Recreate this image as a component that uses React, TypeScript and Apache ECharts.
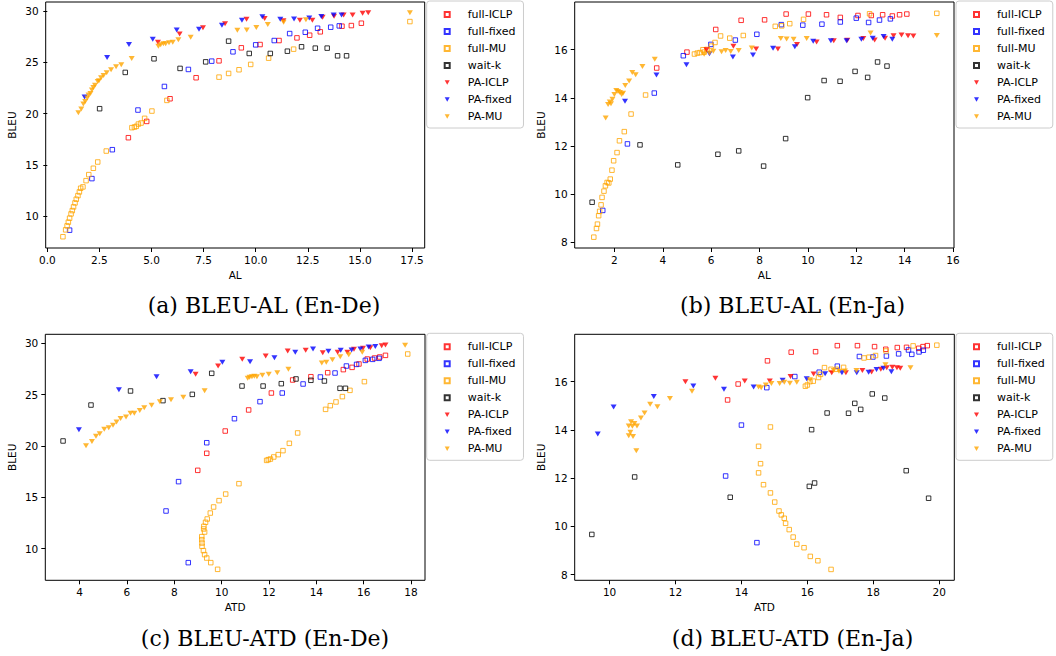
import React, { useEffect, useRef } from 'react';
import * as echarts from 'echarts';

// ---------- series names ----------
const seriesNames = ['full-ICLP', 'full-fixed', 'full-MU', 'wait-k', 'PA-ICLP', 'PA-fixed', 'PA-MU'];

// ---------- tick labels ----------
const aXTicks = [0, 2.5, 5, 7.5, 10, 12.5, 15, 17.5];
const aYTicks = [10, 15, 20, 25, 30];
const bXTicks = [2, 4, 6, 8, 10, 12, 14, 16];
const bYTicks = [8, 10, 12, 14, 16];
const cXTicks = [4, 6, 8, 10, 12, 14, 16, 18];
const cYTicks = [10, 15, 20, 25, 30];
const dXTicks = [10, 12, 14, 16, 18, 20];
const dYTicks = [8, 10, 12, 14, 16];

// ---------- (a) BLEU-AL (En-De) ----------
const aFullICLP = [[3.89,17.66],[4.77,19.25],[5.89,21.46],[7.14,23.51],[8.24,25.16],[9.31,26.43],[10.21,26.75],[11.12,27.14],[11.98,27.40],[12.59,27.66],[13.10,27.99],[14.14,28.54],[14.59,28.60],[15.07,28.83]];
const aFullFixed = [[1.07,8.64],[2.14,13.67],[3.12,16.49],[4.35,20.36],[5.62,22.66],[6.77,24.32],[7.89,25.13],[8.91,26.04],[10.0,26.72],[10.89,27.14],[11.63,27.82],[12.38,27.95],[12.97,28.34],[13.60,28.44],[14.01,28.57]];
const aFullMU = [[0.75,8.0],[0.88,8.67],[0.95,9.06],[1.01,9.42],[1.07,9.81],[1.14,10.23],[1.20,10.55],[1.26,10.91],[1.33,11.30],[1.39,11.66],[1.47,12.01],[1.54,12.37],[1.60,12.73],[1.71,12.86],[1.86,13.47],[1.99,14.06],[2.21,14.68],[2.42,15.29],[2.83,16.36],[4.06,18.64],[4.18,18.70],[4.27,18.77],[4.37,18.99],[4.50,19.09],[4.67,19.55],[5.02,20.26],[5.74,21.30],[8.24,23.57],[8.70,23.93],[9.20,24.29],[9.76,24.81],[10.62,25.42],[11.82,26.30],[17.4,28.99]];
const aWaitK = [[2.51,20.49],[3.74,24.03],[5.12,25.36],[6.37,24.42],[7.60,25.06],[8.70,27.08],[9.69,25.88],[10.70,25.88],[11.52,26.10],[12.20,26.53],[12.86,26.40],[13.43,26.40],[13.93,25.65],[14.36,25.65]];
const aPAICLP = [[5.31,26.98],[6.35,27.79],[7.47,28.38],[8.53,28.77],[9.56,29.22],[10.43,29.29],[11.33,29.06],[12.12,29.12],[12.72,29.12],[13.21,29.42],[13.76,29.51],[14.22,29.64],[14.65,29.64],[15.13,29.81],[15.40,29.84]];
const aPAFixed = [[1.79,21.62],[2.87,25.49],[3.92,26.75],[5.06,27.27],[6.21,28.18],[7.28,28.25],[8.38,28.64],[9.34,29.12],[10.32,29.45],[11.18,29.22],[11.84,29.25],[12.57,29.35],[13.15,29.48],[13.74,29.64],[14.12,29.64]];
const aPAMU = [[1.49,20.10],[1.63,20.45],[1.73,20.94],[1.82,21.20],[1.92,21.53],[1.98,21.82],[2.07,21.98],[2.14,22.31],[2.21,22.56],[2.29,22.79],[2.42,23.15],[2.48,23.21],[2.58,23.51],[2.70,23.73],[2.85,23.99],[3.06,24.29],[3.30,24.58],[3.55,24.77],[4.05,25.39],[5.33,26.59],[5.44,26.72],[5.57,26.82],[5.68,26.82],[5.84,26.92],[6.02,26.98],[6.29,27.21],[6.88,27.47],[9.12,28.15],[9.57,28.18],[10.03,28.41],[10.58,28.70],[11.34,28.93],[12.41,29.16],[17.4,29.84]];

// ---------- (b) BLEU-AL (En-Ja) ----------
const bFullICLP = [[3.75,15.24],[5.0,15.90],[6.19,16.84],[7.24,17.22],[8.21,17.24],[9.10,17.48],[10.02,17.48],[10.77,17.45],[11.34,17.34],[12.07,17.42],[12.62,17.42],[13.09,17.45],[13.49,17.40],[13.79,17.45],[14.09,17.48]];
const bFullFixed = [[1.52,9.33],[2.54,12.09],[3.65,14.20],[4.85,15.75],[5.99,16.22],[7.0,16.40],[7.89,16.64],[8.90,17.04],[9.79,17.02],[10.58,17.06],[11.34,17.15],[12.0,17.31],[12.51,17.13],[12.96,17.23],[13.41,17.28]];
const bFullMU = [[1.15,8.22],[1.26,8.58],[1.30,8.76],[1.35,9.11],[1.39,9.29],[1.45,9.56],[1.49,9.87],[1.57,10.13],[1.63,10.35],[1.70,10.49],[1.77,10.47],[1.83,10.63],[1.90,11.0],[1.97,11.39],[2.11,11.73],[2.21,12.22],[2.41,12.60],[2.69,13.33],[3.29,14.12],[5.31,15.82],[5.43,15.86],[5.54,15.88],[5.66,16.0],[5.71,15.90],[5.83,16.01],[6.01,16.15],[6.16,16.30],[6.39,16.57],[6.77,16.48],[7.33,16.59],[8.65,16.97],[8.92,16.99],[9.25,17.08],[9.82,17.26],[12.55,17.49],[15.33,17.51]];
const bWaitK = [[1.08,9.67],[3.06,12.05],[4.62,11.22],[6.28,11.66],[7.14,11.80],[8.17,11.17],[9.08,12.31],[9.99,14.01],[10.67,14.72],[11.33,14.69],[11.95,15.10],[12.47,14.85],[12.88,15.49],[13.27,15.32]];
const bPAICLP = [[5.81,16.0],[6.92,16.14],[7.86,16.03],[8.76,16.03],[9.55,16.22],[10.36,16.32],[11.07,16.37],[11.63,16.39],[12.29,16.47],[12.76,16.40],[13.19,16.48],[13.54,16.58],[13.87,16.61],[14.14,16.58],[14.36,16.57]];
const bPAFixed = [[2.44,13.86],[3.74,14.95],[4.98,15.38],[5.93,15.83],[6.90,15.70],[7.73,15.78],[8.56,16.06],[9.46,16.12],[10.22,16.35],[10.95,16.37],[11.60,16.37],[12.21,16.43],[12.68,16.48],[13.13,16.55],[13.49,16.43]];
const bPAMU = [[1.64,13.17],[1.74,13.73],[1.81,13.83],[1.86,13.76],[1.92,13.94],[2.0,14.14],[2.08,14.31],[2.15,14.27],[2.23,14.22],[2.30,14.14],[2.36,14.19],[2.45,14.51],[2.61,14.70],[2.74,15.05],[2.88,14.96],[3.16,15.30],[3.67,15.60],[5.71,15.81],[5.93,15.86],[6.09,15.94],[6.43,15.92],[6.60,15.97],[6.81,15.93],[7.14,15.97],[7.68,16.07],[8.88,16.46],[9.12,16.44],[9.41,16.43],[9.95,16.46],[12.59,16.69],[15.33,16.59]];

// ---------- (c) BLEU-ATD (En-De) ----------
const cFullICLP = [[8.99,17.63],[9.37,19.29],[10.15,21.46],[11.14,23.51],[12.10,25.16],[13.0,26.43],[13.77,26.75],[14.48,27.14],[15.14,27.44],[15.51,27.66],[15.80,27.99],[16.15,28.47],[16.46,28.57],[16.68,28.67],[16.92,28.83]];
const cFullFixed = [[8.59,8.64],[7.65,13.67],[8.18,16.53],[9.37,20.32],[10.54,22.66],[11.62,24.32],[12.56,25.16],[13.44,26.04],[14.17,26.72],[14.79,27.11],[15.27,27.79],[15.70,27.95],[16.07,28.34],[16.38,28.44],[16.65,28.54]];
const cFullMU = [[9.83,7.99],[9.54,8.64],[9.37,9.09],[9.28,9.42],[9.23,9.81],[9.17,10.23],[9.17,10.55],[9.16,10.88],[9.16,11.17],[9.28,11.62],[9.24,11.92],[9.25,12.18],[9.32,12.57],[9.39,12.89],[9.52,13.47],[9.66,14.06],[9.89,14.68],[10.17,15.32],[10.73,16.33],[11.90,18.60],[11.97,18.67],[12.06,18.73],[12.20,18.93],[12.39,19.16],[12.59,19.55],[12.86,20.26],[13.21,21.27],[14.39,23.57],[14.59,23.93],[14.83,24.29],[15.10,24.81],[15.42,25.42],[16.03,26.27],[17.86,28.96]];
const cWaitK = [[3.30,20.49],[4.48,23.99],[6.15,25.36],[7.52,24.42],[8.76,25.03],[9.58,27.08],[10.86,25.84],[11.75,25.84],[12.52,26.07],[13.14,26.53],[13.77,26.40],[14.34,26.33],[15.0,25.62],[15.23,25.62]];
const cPAICLP = [[8.90,26.98],[9.85,27.79],[10.87,28.44],[11.86,28.77],[12.79,29.25],[13.55,29.32],[14.27,29.09],[14.90,29.12],[15.31,29.12],[15.59,29.42],[15.97,29.51],[16.28,29.58],[16.76,29.77],[16.92,29.84]];
const cPAFixed = [[3.97,21.59],[5.66,25.49],[7.25,26.75],[8.69,27.24],[10.03,28.15],[11.20,28.21],[12.23,28.60],[13.11,29.12],[13.86,29.45],[14.51,29.22],[15.03,29.32],[15.49,29.35],[15.86,29.45],[16.21,29.64],[16.49,29.68]];
const cPAMU = [[4.27,20.03],[4.52,20.45],[4.69,20.94],[4.85,21.20],[5.04,21.62],[5.23,21.79],[5.41,22.01],[5.56,22.34],[5.73,22.69],[5.96,22.82],[6.15,23.18],[6.31,23.18],[6.54,23.47],[6.73,23.73],[7.04,23.96],[7.39,24.32],[7.86,24.51],[8.38,24.74],[9.28,25.39],[11.10,26.59],[11.18,26.69],[11.28,26.75],[11.38,26.79],[11.49,26.75],[11.72,26.88],[11.99,26.98],[12.35,27.14],[12.82,27.47],[14.23,28.08],[14.42,28.15],[14.68,28.41],[15.01,28.70],[15.37,28.90],[15.94,29.12],[17.75,29.81]];

// ---------- (d) BLEU-ATD (En-Ja) ----------
const dFullICLP = [[13.58,15.24],[13.90,15.90],[14.79,16.86],[15.51,17.22],[16.25,17.24],[16.91,17.49],[17.52,17.49],[18.04,17.45],[18.38,17.34],[18.73,17.41],[19.01,17.42],[19.38,17.38],[19.51,17.45],[19.64,17.49]];
const dFullFixed = [[13.52,12.09],[14.0,14.20],[14.47,9.33],[14.77,15.75],[15.62,16.21],[16.36,16.39],[16.91,16.64],[17.58,17.04],[17.99,17.02],[18.40,17.06],[18.77,17.15],[19.07,17.31],[19.17,17.13],[19.39,17.23],[19.52,17.30]];
const dFullMU = [[16.72,8.22],[16.32,8.58],[16.09,8.76],[15.90,9.12],[15.68,9.27],[15.57,9.56],[15.45,9.87],[15.34,10.13],[15.30,10.34],[15.21,10.48],[15.14,10.64],[15.01,11.01],[14.88,11.39],[14.67,11.73],[14.52,12.22],[14.58,12.60],[14.52,13.32],[14.88,14.12],[15.94,15.81],[16.0,15.86],[16.08,16.0],[16.18,16.02],[16.34,16.17],[16.40,16.30],[16.52,16.58],[16.72,16.51],[16.88,16.51],[17.10,16.59],[17.72,16.98],[17.87,17.01],[18.07,17.08],[18.39,17.27],[19.21,17.48],[19.93,17.51]];
const dWaitK = [[9.46,9.67],[10.76,12.05],[13.66,11.21],[16.06,11.66],[16.22,11.80],[16.13,14.01],[16.60,14.70],[17.25,14.69],[17.44,15.10],[17.62,14.85],[17.97,15.49],[18.35,15.32],[19.0,12.31],[19.68,11.17]];
const dPAICLP = [[12.30,15.99],[13.21,16.14],[14.10,16.03],[14.86,16.03],[15.49,16.21],[16.19,16.32],[16.74,16.37],[17.17,16.37],[17.67,16.46],[17.95,16.40],[18.23,16.51],[18.41,16.57],[18.58,16.59],[18.72,16.57],[18.82,16.55]];
const dPAFixed = [[9.64,13.83],[10.12,14.95],[11.34,15.38],[12.54,15.82],[13.47,15.68],[14.37,15.78],[15.25,16.06],[15.98,16.12],[16.54,16.33],[17.05,16.37],[17.50,16.37],[17.86,16.39],[18.10,16.50],[18.31,16.55],[18.55,16.41]];
const dPAMU = [[10.81,13.14],[10.58,13.76],[10.63,13.90],[10.71,13.73],[10.65,14.34],[10.69,14.15],[10.58,14.16],[10.75,14.26],[10.83,14.16],[10.95,14.49],[11.06,14.70],[11.23,15.06],[11.45,14.96],[11.83,15.30],[12.50,15.60],[14.52,15.78],[14.60,15.75],[14.74,15.86],[14.91,15.92],[15.16,15.92],[15.30,15.97],[15.47,15.93],[15.68,15.97],[16.08,16.08],[16.80,16.46],[16.96,16.43],[17.14,16.44],[17.49,16.46],[18.37,16.70],[19.13,16.57]];

// ---------- styles ----------
const seriesColors = ['#ff0000', '#0000ff', '#ffa500', '#000000', '#ff0000', '#0000ff', '#ffa500'];
const SQUARE = 'path://M0,0L10,0L10,10L0,10Z';
const TRIANGLE = 'path://M0,0L10,0L5,9Z';
const AXIS_FONT = 'DejaVu Sans';

const panels = [
  {
    grid: { left: 45.7, top: 2, width: 379, height: 246 },
    xMin: -0.077, xMax: 18.11, xTicks: aXTicks, xDec: 1, xName: 'AL',
    yMin: 6.9, yMax: 30.9, yTicks: aYTicks,
    data: [aFullICLP, aFullFixed, aFullMU, aWaitK, aPAICLP, aPAFixed, aPAMU],
    legend: { left: 426.7, top: 1 },
    caption: { text: '(a) BLEU-AL (En-De)', x: 264, y: 305 },
  },
  {
    grid: { left: 574.7, top: 2, width: 379.3, height: 246 },
    xMin: 0.36, xMax: 16.04, xTicks: bXTicks, xDec: 0, xName: 'AL',
    yMin: 7.77, yMax: 17.98, yTicks: bYTicks,
    data: [bFullICLP, bFullFixed, bFullMU, bWaitK, bPAICLP, bPAFixed, bPAMU],
    legend: { left: 956, top: 1 },
    caption: { text: '(b) BLEU-AL (En-Ja)', x: 792.5, y: 305 },
  },
  {
    grid: { left: 45.3, top: 334.3, width: 379.7, height: 246 },
    xMin: 2.55, xMax: 18.59, xTicks: cXTicks, xDec: 0, xName: 'ATD',
    yMin: 6.92, yMax: 30.88, yTicks: cYTicks,
    data: [cFullICLP, cFullFixed, cFullMU, cWaitK, cPAICLP, cPAFixed, cPAMU],
    legend: { left: 426.7, top: 333.3 },
    caption: { text: '(c) BLEU-ATD (En-De)', x: 265, y: 638 },
  },
  {
    grid: { left: 574.7, top: 334.3, width: 379.6, height: 246 },
    xMin: 8.94, xMax: 20.46, xTicks: dXTicks, xDec: 0, xName: 'ATD',
    yMin: 7.77, yMax: 17.96, yTicks: dYTicks,
    data: [dFullICLP, dFullFixed, dFullMU, dWaitK, dPAICLP, dPAFixed, dPAMU],
    legend: { left: 956, top: 333.3 },
    caption: { text: '(d) BLEU-ATD (En-Ja)', x: 792.5, y: 638 },
  },
];

function buildOption() {
  const grid = panels.map((p) => ({
    ...p.grid,
    show: true,
    borderColor: '#000',
    borderWidth: 1,
    backgroundColor: 'transparent',
    containLabel: false,
  }));
  const xAxis = panels.map((p, i) => ({
    type: 'value',
    gridIndex: i,
    min: p.xMin,
    max: p.xMax,
    name: p.xName,
    nameLocation: 'middle',
    nameGap: 21,
    nameTextStyle: { fontFamily: AXIS_FONT, fontSize: 10.5, color: '#000' },
    axisLine: { show: false },
    splitLine: { show: false },
    axisTick: { show: true, customValues: p.xTicks, length: 4, lineStyle: { color: '#000', width: 1 } },
    axisLabel: {
      customValues: p.xTicks,
      margin: 6,
      fontFamily: AXIS_FONT,
      fontSize: 10.5,
      color: '#000',
      formatter: (v: number) => v.toFixed(p.xDec),
    },
  }));
  const yAxis = panels.map((p, i) => ({
    type: 'value',
    gridIndex: i,
    min: p.yMin,
    max: p.yMax,
    name: 'BLEU',
    nameLocation: 'middle',
    nameGap: 28,
    nameTextStyle: { fontFamily: AXIS_FONT, fontSize: 10.5, color: '#000' },
    axisLine: { show: false },
    splitLine: { show: false },
    axisTick: { show: true, customValues: p.yTicks, length: 4, lineStyle: { color: '#000', width: 1 } },
    axisLabel: {
      customValues: p.yTicks,
      margin: 7,
      fontFamily: AXIS_FONT,
      fontSize: 10.5,
      color: '#000',
      formatter: (v: number) => String(v),
    },
  }));
  const series: any[] = [];
  panels.forEach((p, i) => {
    p.data.forEach((d, k) => {
      const isTri = k >= 4;
      const color = seriesColors[k];
      series.push({
        type: 'scatter',
        name: seriesNames[k],
        xAxisIndex: i,
        yAxisIndex: i,
        data: d,
        symbol: isTri ? TRIANGLE : SQUARE,
        symbolSize: isTri ? [6, 5] : 4.5,
        itemStyle: isTri
          ? { color, borderWidth: 0 }
          : { color: 'rgba(255,255,255,0)', borderColor: color, borderWidth: 1 },
        silent: true,
        z: 2 + k,
      });
    });
  });
  const legend = panels.map((p) => ({
    orient: 'vertical',
    left: p.legend.left,
    top: p.legend.top,
    data: seriesNames,
    itemWidth: 5,
    itemHeight: 5,
    itemGap: 6,
    padding: [8, 8, 6, 17],
    borderColor: '#cccccc',
    borderWidth: 1,
    borderRadius: 3,
    backgroundColor: 'rgba(255,255,255,0.8)',
    selectedMode: false,
    textStyle: { fontFamily: AXIS_FONT, fontSize: 11, color: '#000', padding: [0, 0, 0, 13] },
  }));
  const graphic = panels.map((p) => ({
    type: 'text',
    x: p.caption.x,
    y: p.caption.y,
    style: {
      text: p.caption.text,
      fontFamily: 'DejaVu Serif',
      fontSize: 22,
      fill: '#000',
      align: 'center',
      verticalAlign: 'middle',
      textAlign: 'center',
      textVerticalAlign: 'middle',
    },
  }));
  return {
    animation: false,
    backgroundColor: '#ffffff',
    grid,
    xAxis,
    yAxis,
    series,
    legend,
    graphic,
  };
}

export default function App() {
  const ref = useRef<HTMLDivElement>(null);
  useEffect(() => {
    if (!ref.current) return;
    const chart = echarts.init(ref.current, null, { renderer: 'svg' });
    chart.setOption(buildOption() as any);
    return () => chart.dispose();
  }, []);
  return (
    <div
      ref={ref}
      style={{ position: 'absolute', left: 0, top: 0, width: 1056, height: 656, background: '#fff' }}
    />
  );
}
